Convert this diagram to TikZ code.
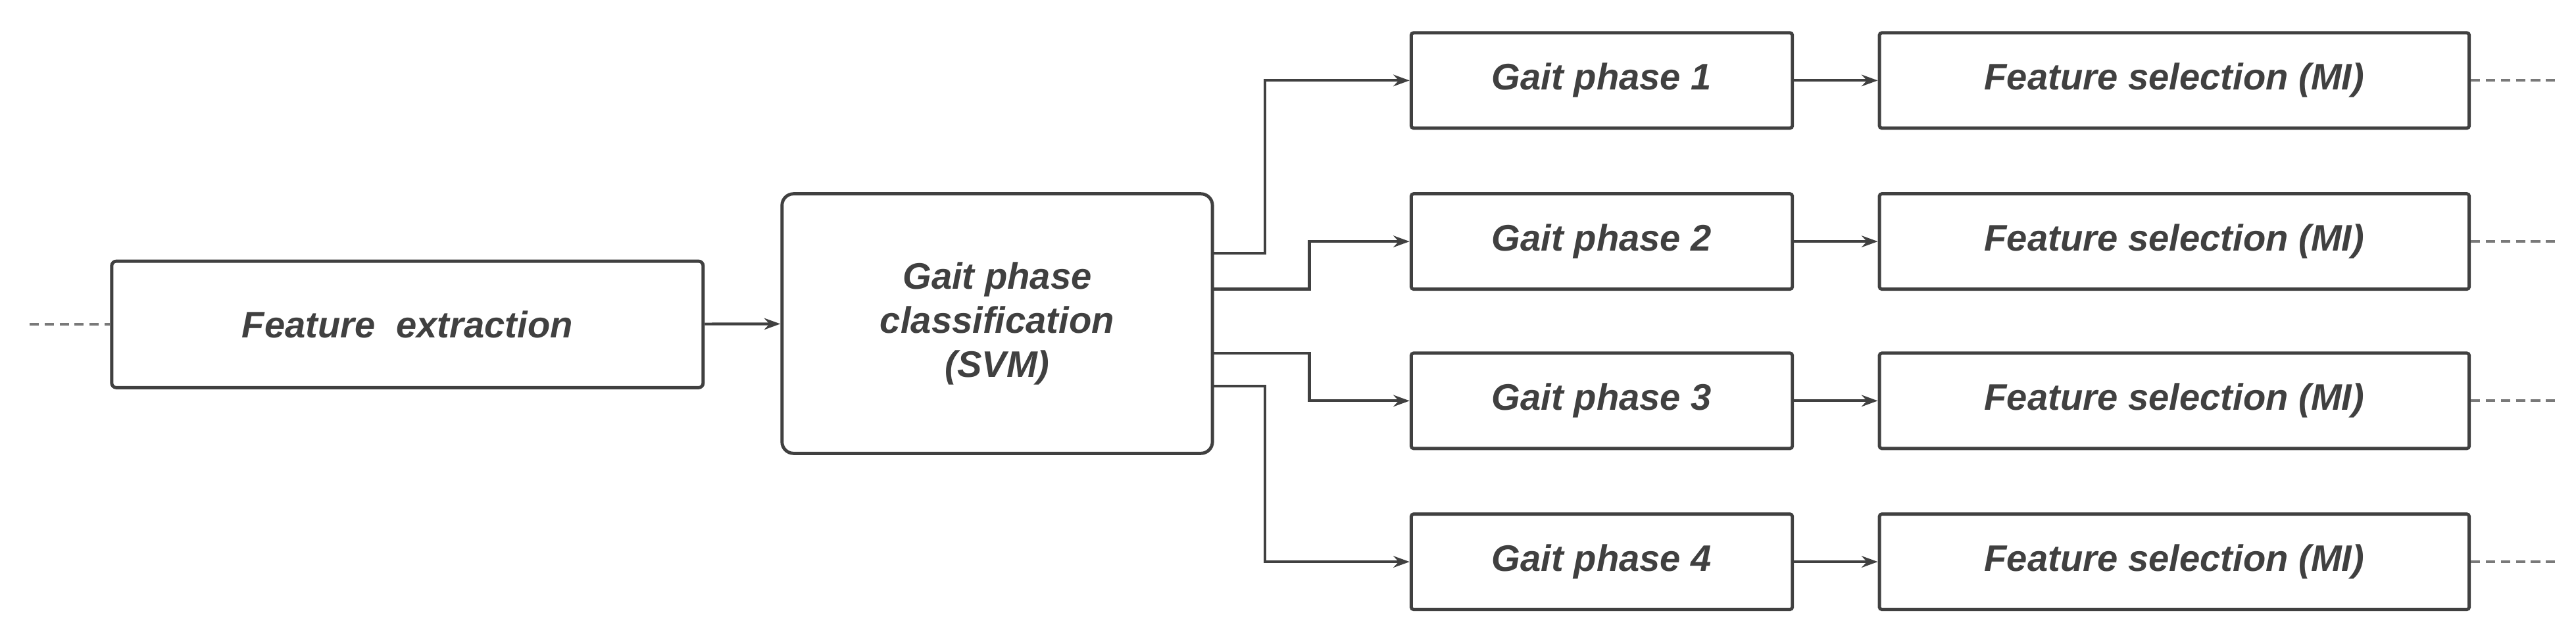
\documentclass[tikz,border=0pt]{standalone}
\usepackage{fontspec}
\setmainfont{Liberation Sans}
\usetikzlibrary{arrows.meta}
\definecolor{ink}{HTML}{404040}
\begin{document}
\begin{tikzpicture}[x=0.025cm,y=-0.025cm,
  box/.style={draw=ink,line width=1.4pt,rounded corners=2pt,inner sep=0pt,font=\fontsize{16}{19}\selectfont\bfseries\itshape,text=ink,align=center},
  con/.style={draw=ink,line width=1.2pt,-{Stealth[length=7pt,width=5pt]}},
  dashline/.style={draw=ink!70,line width=1.2pt,dash pattern=on 4pt off 2.5pt}]
\useasboundingbox (0,0) rectangle (1568,388);
\node[box,minimum width=360*0.025cm,minimum height=77*0.025cm] (fe) at (248,197.5) {Feature\ \ extraction};
\node[box,rounded corners=5pt,minimum width=262*0.025cm,minimum height=158*0.025cm] (svm) at (607,197) {Gait phase\\classification\\(SVM)};
\foreach \i/\y in {1/49,2/147,3/244,4/342}{
  \node[box,rounded corners=1pt,minimum width=232*0.025cm,minimum height=58*0.025cm] (g\i) at (975,\y) {Gait phase \i};
  \node[box,rounded corners=1pt,minimum width=359*0.025cm,minimum height=58*0.025cm] (f\i) at (1323.5,\y) {Feature selection (MI)};
  \draw[con] (g\i) -- (f\i);
  \coordinate (r\i) at (1555,\y);
  \draw[dashline] (f\i.east) -- (r\i);
}
\coordinate (l) at (18,197.5);
\draw[dashline] (l) -- (fe.west);
\draw[con] (fe) -- (svm);
\coordinate (s1) at (738,154); \coordinate (s2) at (738,176);
\coordinate (s3) at (738,215); \coordinate (s4) at (738,235);
\draw[con] (s1) -| (770,100) |- (g1.west);
\draw[con] (s2) -| (797,160) |- (g2.west);
\draw[con] (s3) -| (797,230) |- (g3.west);
\draw[con] (s4) -| (770,300) |- (g4.west);
\end{tikzpicture}
\end{document}
